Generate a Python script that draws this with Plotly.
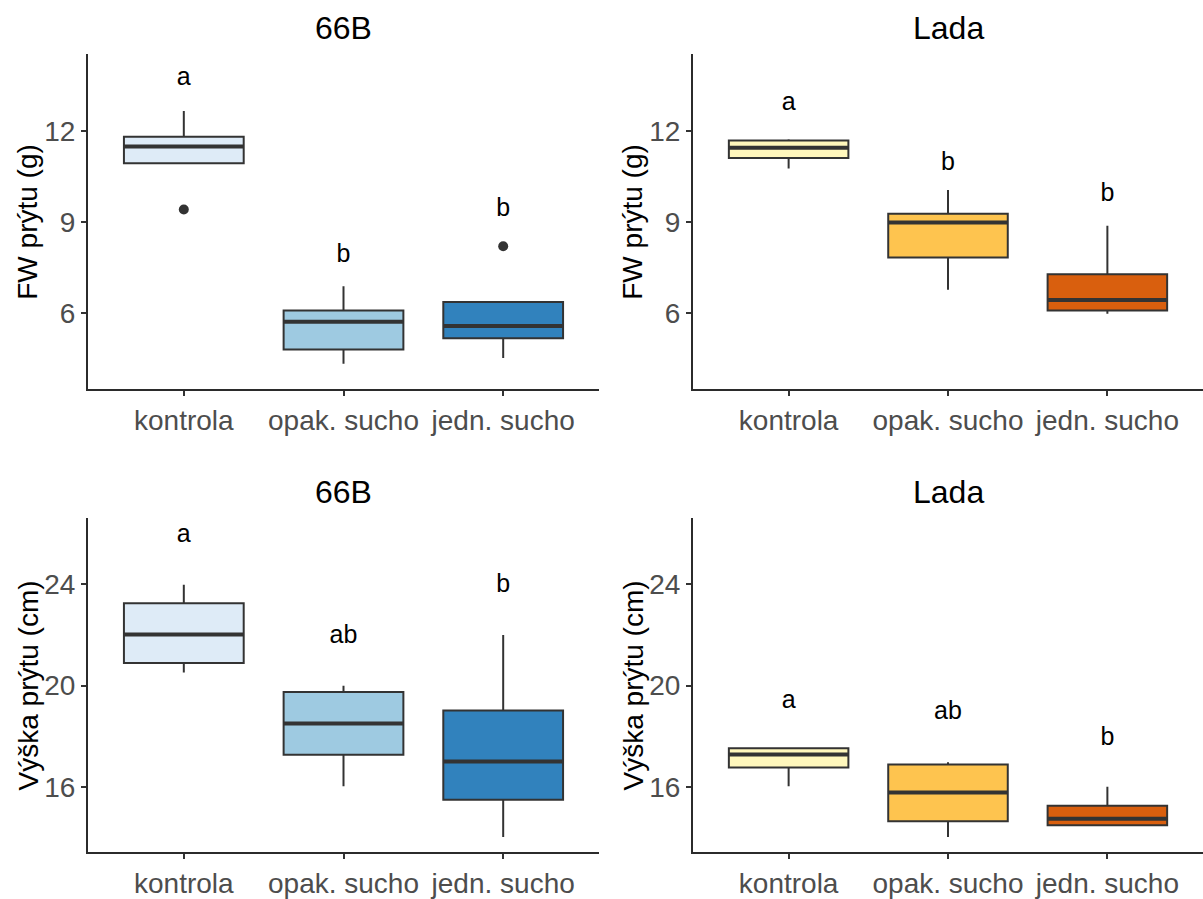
import plotly.graph_objects as go

# Treatment groups on the x axis
groups = ["kontrola", "opak. sucho", "jedn. sucho"]
group_pos = [1, 2, 3]

# --- FW prýtu (g), variety 66B ---
fw_66b_low = [10.94, 4.34, 4.53]
fw_66b_q1 = [10.94, 4.81, 5.18]
fw_66b_med = [11.49, 5.72, 5.58]
fw_66b_q3 = [11.81, 6.09, 6.37]
fw_66b_high = [12.66, 6.89, 6.37]
fw_66b_out_group = ["kontrola", "jedn. sucho"]
fw_66b_out_val = [9.42, 8.21]
fw_66b_letters = ["a", "b", "b"]
fw_66b_letter_y = [13.72, 7.88, 9.42]

# --- FW prýtu (g), variety Lada ---
fw_lada_low = [10.77, 6.78, 5.99]
fw_lada_q1 = [11.11, 7.84, 6.09]
fw_lada_med = [11.45, 8.99, 6.44]
fw_lada_q3 = [11.69, 9.28, 7.29]
fw_lada_high = [11.73, 10.06, 8.88]
fw_lada_letters = ["a", "b", "b"]
fw_lada_letter_y = [12.91, 10.94, 9.92]

# --- Výška prýtu (cm), variety 66B ---
h_66b_low = [20.52, 16.02, 14.01]
h_66b_q1 = [20.89, 17.26, 15.49]
h_66b_med = [22.02, 18.50, 17.00]
h_66b_q3 = [23.25, 19.75, 19.01]
h_66b_high = [23.99, 19.99, 22.00]
h_66b_letters = ["a", "ab", "b"]
h_66b_letter_y = [25.94, 21.93, 23.95]

# --- Výška prýtu (cm), variety Lada ---
h_lada_low = [16.02, 14.01, 14.48]
h_lada_q1 = [16.76, 14.64, 14.48]
h_lada_med = [17.27, 15.77, 14.73]
h_lada_q3 = [17.52, 16.88, 15.25]
h_lada_high = [17.52, 16.97, 16.00]
h_lada_letters = ["a", "ab", "b"]
h_lada_letter_y = [19.37, 18.92, 17.91]

# Fill palettes (Blues for 66B, YlOrBr for Lada)
blues = ["#DEEBF7", "#9ECAE1", "#3182BD"]
ylorbr = ["#FFF7BC", "#FEC44F", "#D95F0E"]

panel_titles = ["66B", "Lada", "66B", "Lada"]
y_titles = ["FW prýtu (g)", "FW prýtu (g)", "Výška prýtu (cm)", "Výška prýtu (cm)"]
fw_ticks = [6, 9, 12]
h_ticks = [16, 20, 24]

FONT = "Liberation Sans, Arial, sans-serif"
EDGE = "#333333"
BOX_W = 0.75

W, H = 1203, 899
# panel boxes in pixels: (left, right, top, bottom)
panels_px = [
    (88, 599, 55, 395),
    (693, 1203, 55, 395),
    (88, 599, 526, 865),
    (693, 1203, 526, 865),
]
y_ranges = [[3.5, 14.53], [3.5, 14.53], [13.4, 26.61], [13.4, 26.61]]

fig = go.Figure()


def add_panel(idx, low, q1, med, q3, high, colors, letters, letter_y,
              out_group=None, out_val=None):
    sfx = "" if idx == 1 else str(idx)
    xa, ya = "x" + sfx, "y" + sfx
    for i, g in enumerate(groups):
        p = group_pos[i]
        fig.add_trace(go.Box(
            x=[p], q1=[q1[i]], median=[med[i]], q3=[q3[i]],
            lowerfence=[low[i]], upperfence=[high[i]],
            width=BOX_W, whiskerwidth=0, boxpoints=False,
            fillcolor=colors[i], line=dict(color=EDGE, width=2),
            xaxis=xa, yaxis=ya, showlegend=False, hoverinfo="skip",
        ))
        # thicker median bar
        fig.add_trace(go.Scatter(
            x=[p - BOX_W / 2, p + BOX_W / 2], y=[med[i], med[i]],
            mode="lines", line=dict(color=EDGE, width=4),
            xaxis=xa, yaxis=ya, showlegend=False, hoverinfo="skip",
        ))
    if out_group:
        fig.add_trace(go.Scatter(
            x=[group_pos[groups.index(g)] for g in out_group], y=out_val,
            mode="markers", marker=dict(color=EDGE, size=10),
            xaxis=xa, yaxis=ya, showlegend=False, hoverinfo="skip",
        ))
    fig.add_trace(go.Scatter(
        x=group_pos, y=letter_y, mode="text", text=letters,
        textposition="middle center",
        textfont=dict(family=FONT, size=25, color="black"),
        xaxis=xa, yaxis=ya, showlegend=False, hoverinfo="skip",
    ))


add_panel(1, fw_66b_low, fw_66b_q1, fw_66b_med, fw_66b_q3, fw_66b_high,
          blues, fw_66b_letters, fw_66b_letter_y, fw_66b_out_group, fw_66b_out_val)
add_panel(2, fw_lada_low, fw_lada_q1, fw_lada_med, fw_lada_q3, fw_lada_high,
          ylorbr, fw_lada_letters, fw_lada_letter_y)
add_panel(3, h_66b_low, h_66b_q1, h_66b_med, h_66b_q3, h_66b_high,
          blues, h_66b_letters, h_66b_letter_y)
add_panel(4, h_lada_low, h_lada_q1, h_lada_med, h_lada_q3, h_lada_high,
          ylorbr, h_lada_letters, h_lada_letter_y)

layout = dict(
    width=W, height=H,
    margin=dict(l=0, r=0, t=0, b=0),
    paper_bgcolor="white", plot_bgcolor="white",
    font=dict(family=FONT, color="black"),
    showlegend=False,
)

annotations = []
for k, (l, r, t, b) in enumerate(panels_px, start=1):
    sfx = "" if k == 1 else str(k)
    axis_common = dict(
        showline=True, linecolor="#2b2b2b", linewidth=2,
        ticks="outside", ticklen=5, tickwidth=2, tickcolor="#333333",
        tickfont=dict(family=FONT, size=28, color="#4D4D4D"),
        showgrid=False, zeroline=False, fixedrange=True,
    )
    layout["xaxis" + sfx] = dict(
        axis_common, domain=[l / W, r / W], anchor="y" + sfx,
        range=[0.4, 3.6], tickmode="array", tickvals=group_pos, ticktext=groups,
    )
    layout["yaxis" + sfx] = dict(
        axis_common, domain=[1 - b / H, 1 - t / H], anchor="x" + sfx,
        range=y_ranges[k - 1], tickmode="array",
        tickvals=fw_ticks if k <= 2 else h_ticks,
    )
    # panel title
    annotations.append(dict(
        text=panel_titles[k - 1], xref="paper", yref="paper",
        x=(l + r) / 2 / W, y=1 - (t - 27) / H,
        xanchor="center", yanchor="middle", showarrow=False,
        font=dict(family=FONT, size=32, color="black"),
    ))
    # y axis title
    annotations.append(dict(
        text=y_titles[k - 1], xref="paper", yref="paper",
        x=(l - 60) / W, y=1 - (t + b) / 2 / H,
        xanchor="center", yanchor="middle", textangle=-90, showarrow=False,
        font=dict(family=FONT, size=28, color="black"),
    ))

layout["annotations"] = annotations
fig.update_layout(**layout)

fig.write_html("out.html")
